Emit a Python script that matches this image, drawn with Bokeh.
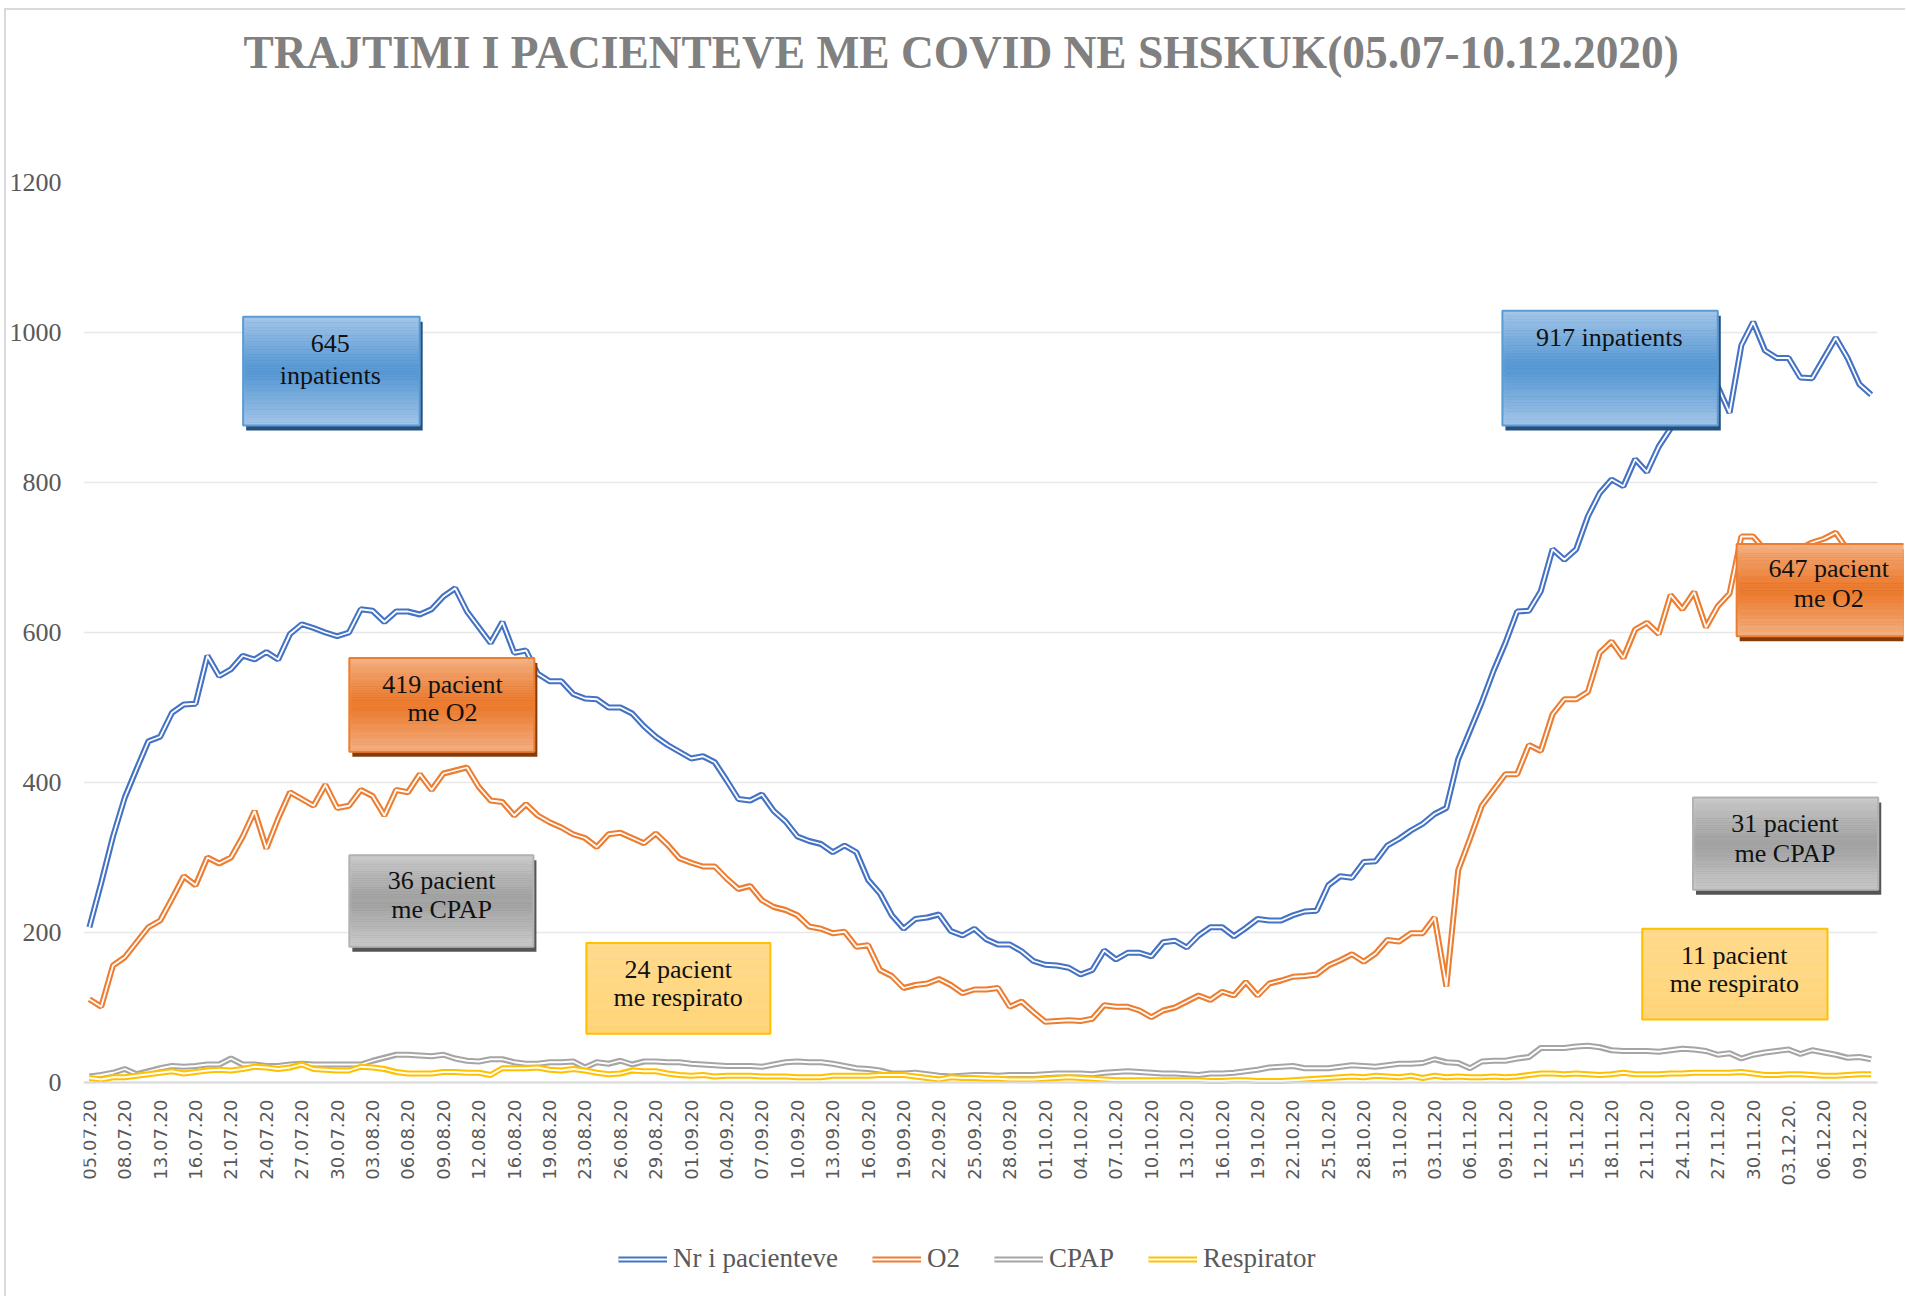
import math
from bokeh.plotting import figure
from bokeh.models import Range1d, FixedTicker, Legend, LegendItem
from bokeh.core.properties import value
from bokeh.embed import file_html
from bokeh.resources import INLINE

# ---------------- data ----------------
tick_labels = [
    "05.07.20", "08.07.20", "13.07.20", "16.07.20", "21.07.20", "24.07.20", "27.07.20",
    "30.07.20", "03.08.20", "06.08.20", "09.08.20", "12.08.20", "16.08.20", "19.08.20",
    "23.08.20", "26.08.20", "29.08.20", "01.09.20", "04.09.20", "07.09.20", "10.09.20",
    "13.09.20", "16.09.20", "19.09.20", "22.09.20", "25.09.20", "28.09.20", "01.10.20",
    "04.10.20", "07.10.20", "10.10.20", "13.10.20", "16.10.20", "19.10.20", "22.10.20",
    "25.10.20", "28.10.20", "31.10.20", "03.11.20", "06.11.20", "09.11.20", "12.11.20",
    "15.11.20", "18.11.20", "21.11.20", "24.11.20", "27.11.20", "30.11.20", "03.12.20.",
    "06.12.20", "09.12.20",
]

patients = [
    207, 266, 328, 380, 418, 455, 461, 493, 504, 505,
    569, 542, 551, 569, 564, 574, 564, 598, 611, 606,
    600, 595, 600, 631, 629, 614, 628, 628, 624, 631,
    648, 659, 628, 607, 586, 614, 573, 576, 545, 535,
    535, 518, 512, 511, 500, 500, 492, 475, 461, 450,
    441, 432, 435, 427, 403, 378, 376, 384, 362, 348,
    328, 322, 318, 307, 316, 307, 270, 252, 223, 205,
    218, 220, 224, 202, 196, 205, 191, 184, 184, 175,
    162, 157, 156, 153, 144, 150, 176, 164, 173, 173,
    168, 187, 189, 180, 196, 207, 207, 195, 206, 218,
    216, 216, 223, 228, 229, 263, 275, 273, 294, 295,
    316, 325, 336, 345, 358, 366, 431, 469, 507, 549,
    586, 628, 629, 655, 711, 697, 711, 755, 786, 804,
    795, 831, 814, 848, 872, 888, 900, 912, 928, 893,
    983, 1014, 976, 966, 966, 940, 939, 966, 993, 966,
    931, 917,
]

o2 = [
    111, 101, 156, 167, 187, 207, 216, 245, 275, 263,
    300, 292, 300, 328, 362, 312, 352, 387, 378, 369,
    397, 366, 369, 390, 382, 356, 390, 387, 411, 390,
    412, 416, 420, 394, 376, 374, 356, 371, 356, 347,
    340, 331, 326, 314, 331, 333, 326, 319, 332, 317,
    299, 293, 288, 288, 272, 258, 262, 243, 234, 230,
    223, 208, 205, 199, 201, 181, 183, 150, 142, 126,
    130, 132, 138, 130, 119, 124, 124, 126, 101, 108,
    94, 81, 82, 83, 82, 85, 103, 101, 101, 96,
    87, 96, 100, 108, 116, 110, 121, 116, 134, 116,
    132, 136, 141, 142, 144, 156, 163, 171, 161, 172,
    190, 188, 199, 199, 220, 128, 283, 325, 369, 390,
    411, 411, 450, 442, 491, 511, 511, 521, 573, 588,
    566, 604, 613, 598, 650, 631, 654, 607, 635, 652,
    728, 728, 710, 700, 705, 712, 720, 725, 733, 710,
    680, 647,
]

cpap = [
    8, 10, 13, 18, 11, 15, 19, 22, 21, 22,
    24, 24, 32, 24, 24, 22, 22, 24, 25, 24,
    24, 24, 24, 24, 29, 33, 37, 37, 36, 35,
    37, 32, 29, 28, 31, 31, 27, 25, 25, 27,
    27, 28, 20, 27, 25, 29, 24, 28, 28, 27,
    27, 25, 24, 23, 22, 22, 22, 21, 24, 27,
    28, 27, 27, 25, 22, 19, 18, 16, 12, 12,
    13, 11, 9, 8, 9, 10, 10, 9, 10, 10,
    10, 11, 12, 12, 12, 11, 13, 14, 15, 14,
    13, 12, 12, 11, 10, 12, 12, 13, 15, 17,
    20, 21, 22, 19, 19, 19, 21, 23, 22, 21,
    23, 25, 25, 26, 31, 27, 26, 19, 28, 29,
    29, 32, 34, 46, 46, 46, 48, 49, 47, 43,
    42, 42, 42, 41, 43, 45, 44, 42, 37, 39,
    32, 37, 40, 42, 44, 38, 43, 40, 37, 33,
    34, 31,
]

respirator = [
    6, 4, 7, 7, 9, 11, 13, 15, 12, 14,
    16, 17, 16, 18, 21, 20, 18, 20, 24, 18,
    17, 16, 16, 21, 20, 18, 14, 12, 12, 12,
    14, 14, 13, 13, 10, 19, 19, 19, 20, 17,
    16, 18, 16, 13, 11, 12, 16, 15, 15, 12,
    10, 9, 10, 8, 9, 9, 9, 8, 8, 8,
    7, 7, 7, 9, 9, 9, 9, 10, 10, 10,
    8, 6, 4, 7, 6, 6, 5, 5, 4, 4,
    4, 5, 6, 7, 6, 5, 4, 3, 3, 3,
    3, 3, 3, 3, 3, 2, 2, 3, 3, 2,
    2, 2, 3, 4, 5, 6, 7, 8, 7, 9,
    8, 7, 9, 6, 9, 7, 8, 7, 7, 8,
    7, 8, 10, 12, 12, 11, 12, 11, 10, 11,
    13, 11, 11, 11, 12, 12, 13, 13, 13, 13,
    14, 12, 10, 10, 11, 11, 10, 9, 9, 10,
    11, 11,
]

series_names = ["Nr i pacienteve", "O2", "CPAP", "Respirator"]
series_values = [patients, o2, cpap, respirator]
series_colors = ["#4472C4", "#ED7D31", "#A5A5A5", "#FFC000"]

y_ticks = [0, 200, 400, 600, 800, 1000, 1200]

# annotation call-outs (text and placement of the boxes)
notes = [
    dict(style="blue", box=(13.03, 27.99, 1021, 876), tx=20.42, ty=[985, 943], lines=["645", "inpatients"]),
    dict(style="blue", box=(119.75, 138.0, 1029, 876), tx=128.8, ty=[993], lines=["917 inpatients"]),
    dict(style="orange", box=(139.6, 156.0, 718, 595), tx=147.4, ty=[685, 646], lines=["647 pacient", "me O2"]),
    dict(style="orange", box=(22.03, 37.71, 566, 441), tx=29.92, ty=[531, 493], lines=["419 pacient", "me O2"]),
    dict(style="gray", box=(22.03, 37.63, 303, 181), tx=29.85, ty=[270, 231], lines=["36 pacient", "me CPAP"]),
    dict(style="yellow", box=(42.12, 57.71, 186, 65), tx=49.9, ty=[151, 113], lines=["24 pacient", "me respirato"]),
    dict(style="gray", box=(135.9, 151.6, 380, 257), tx=143.7, ty=[345, 305], lines=["31 pacient", "me CPAP"]),
    dict(style="yellow", box=(131.6, 147.3, 205, 84), tx=139.4, ty=[170, 132], lines=["11 pacient", "me respirato"]),
]

box_styles = {
    "blue": dict(stops=[(0.0, "#A4C6E9"), (0.45, "#5B9BD5"), (0.55, "#5B9BD5"), (1.0, "#A4C6E9")],
                 border="#5B9BD5", shadow="#24507E"),
    "orange": dict(stops=[(0.0, "#F4B183"), (0.45, "#ED7D31"), (0.55, "#ED7D31"), (1.0, "#F4B183")],
                   border="#ED7D31", shadow="#843C0C"),
    "gray": dict(stops=[(0.0, "#CACACA"), (0.45, "#A5A5A5"), (0.55, "#A5A5A5"), (1.0, "#CACACA")],
                 border="#B2B2B2", shadow="#555555"),
    "yellow": dict(stops=[(0.0, "#FFDA8C"), (1.0, "#FFD478")], border="#FFC000", shadow=None),
}

# ---------------- helpers ----------------
def hex2rgb(h):
    h = h.lstrip("#")
    return tuple(int(h[i:i + 2], 16) for i in (0, 2, 4))


def grad_color(stops, f):
    for (f0, c0), (f1, c1) in zip(stops[:-1], stops[1:]):
        if f0 <= f <= f1:
            t = 0 if f1 == f0 else (f - f0) / (f1 - f0)
            a, b = hex2rgb(c0), hex2rgb(c1)
            return "#%02x%02x%02x" % tuple(round(a[k] + (b[k] - a[k]) * t) for k in range(3))
    return stops[-1][1]


# ---------------- figure ----------------
n = len(patients)
x = list(range(n))

W, H = 1905, 1296
top_px, zero_px = 182, 1082          # page rows of y=1200 and y=0
px_per_unit = (zero_px - top_px) / 1200.0
y_min = -(H - zero_px) / px_per_unit

p = figure(
    width=W, height=H,
    output_backend="svg", toolbar_location=None,
    x_range=Range1d(-0.5, 153.74), y_range=Range1d(y_min, 1200),
    min_border_left=83, min_border_right=2, min_border_top=top_px, min_border_bottom=0,
    background_fill_color="white", border_fill_color="white", border_fill_alpha=0,
)
p.outline_line_color = None
p.styles = {
    "background-color": "white",
    "background-image": "linear-gradient(#D9D9D9, #D9D9D9), linear-gradient(#D9D9D9, #D9D9D9)",
    "background-size": "2px 100%, 100% 2px",
    "background-position": "4px 8px, 4px 8px",
    "background-repeat": "no-repeat",
}

p.title.text = "TRAJTIMI I PACIENTEVE ME COVID NE SHSKUK(05.07-10.12.2020)"
p.title.text_font = "Liberation Serif"
p.title.text_font_style = "bold"
p.title.text_font_size = "45.4px"
p.title.text_color = "#808080"
p.title.align = "left"
p.title.offset = 160
p.title.vertical_align = "top"
p.title.standoff = 0
try:
    p.title.padding = dict(left=0, right=0, top=0, bottom=103)
except Exception:
    p.title.standoff = 120

# axes
p.xaxis.fixed_location = 0
p.xaxis.ticker = FixedTicker(ticks=list(range(0, n, 3)))
p.xaxis.major_label_overrides = {i * 3: lab for i, lab in enumerate(tick_labels)}
p.xaxis.major_label_orientation = math.pi / 2
p.xaxis.major_label_text_font = "DejaVu Sans"
p.xaxis.major_label_text_font_size = "18px"
p.xaxis.major_label_text_color = "#595959"
p.xaxis.major_label_standoff = 11
p.xaxis.major_tick_line_color = None
p.xaxis.minor_tick_line_color = None
p.xaxis.axis_line_color = "#D9D9D9"
p.xaxis.axis_line_width = 2
p.xaxis.bounds = (-0.5, n - 0.5)

p.yaxis.ticker = FixedTicker(ticks=y_ticks)
p.yaxis.major_label_text_font = "Liberation Serif"
p.yaxis.major_label_text_font_size = "26px"
p.yaxis.major_label_text_color = "#595959"
p.yaxis.major_label_standoff = 16
p.yaxis.major_tick_line_color = None
p.yaxis.minor_tick_line_color = None
p.yaxis.axis_line_color = None

p.xgrid.visible = False
p.ygrid.grid_line_color = "#E8E8E8"
p.ygrid.grid_line_width = 1.5
try:
    p.ygrid.cross_bounds = (-0.5, n - 0.5)
except Exception:
    pass

# double (compound) lines
items = []
for name, vals, col in zip(series_names, series_values, series_colors):
    r1 = p.line(x, vals, line_color=col, line_width=6)
    r2 = p.line(x, vals, line_color="white", line_width=1.8)
    items.append(LegendItem(label=name, renderers=[r1, r2]))

# call-out boxes
dx, dy = 3 / 11.8, 5 / px_per_unit
nb = 40
for note in notes:
    st = box_styles[note["style"]]
    x0, x1, yt, yb = note["box"]
    if st["shadow"]:
        p.quad(left=[x0 + dx], right=[x1 + dx], top=[yt - dy], bottom=[yb - dy],
               fill_color=st["shadow"], line_color=None)
    lefts, rights, tops, bottoms, cols = [], [], [], [], []
    for k in range(nb):
        f = (k + 0.5) / nb
        lefts.append(x0)
        rights.append(x1)
        tops.append(yt - (yt - yb) * k / nb)
        bottoms.append(yt - (yt - yb) * (k + 1) / nb)
        cols.append(grad_color(st["stops"], f))
    p.quad(left=lefts, right=rights, top=tops, bottom=bottoms,
           fill_color=cols, line_color=cols, line_width=0.6)
    p.quad(left=[x0], right=[x1], top=[yt], bottom=[yb], fill_color=None,
           line_color=st["border"], line_width=2)
    p.text(x=[note["tx"]] * len(note["lines"]), y=note["ty"], text=note["lines"],
           text_align="center", text_baseline="middle",
           text_font=value("Liberation Serif"), text_font_size="26px", text_color="#111111")

legend = Legend(
    items=items, orientation="horizontal", location=(535, 22),
    label_text_font="Liberation Serif", label_text_font_size="27px", label_text_color="#595959",
    glyph_width=49, glyph_height=24, spacing=34, label_standoff=6,
    border_line_color=None, background_fill_alpha=0, padding=5, margin=0,
)
p.add_layout(legend, "center")

open("out.html", "w").write(file_html(p, INLINE))
